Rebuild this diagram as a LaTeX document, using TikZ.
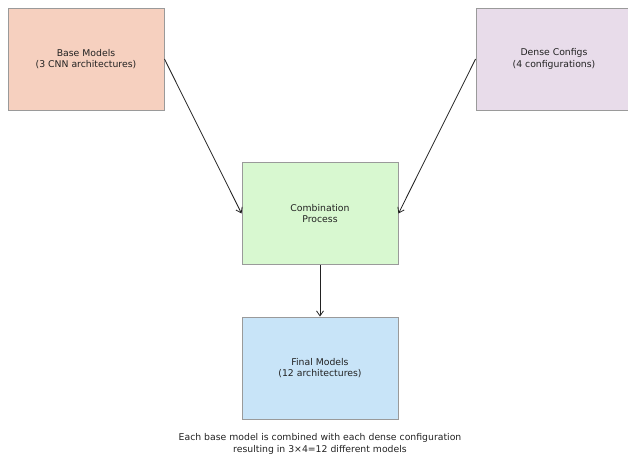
\documentclass[tikz,border=0pt]{standalone}
\usepackage{fontspec}
\setmainfont{DejaVu Sans}
\usetikzlibrary{arrows.meta}
\definecolor{peach}{HTML}{F6D0BF}
\definecolor{lav}{HTML}{E8DCEA}
\definecolor{mint}{HTML}{D8F8D0}
\definecolor{sky}{HTML}{C8E4F8}
\definecolor{edge}{HTML}{9A9A9A}
\definecolor{txt}{HTML}{222222}
\begin{document}
\begin{tikzpicture}[x=1pt,y=-1pt,
  box/.style={draw=edge,line width=0.9pt,rectangle,minimum width=156pt,minimum height=102pt,
    align=center,text=txt,font=\fontsize{9.3}{11.5}\selectfont,inner sep=0pt},
  conn/.style={draw=txt,line width=0.8pt,-{Straight Barb[length=5pt,width=7pt]}}]
\useasboundingbox (0,0) rectangle (628,459);
\node[box,fill=peach] (base) at (86,59) {Base Models\\(3 CNN architectures)};
\node[box,fill=lav] (dense) at (554,59) {Dense Configs\\(4 configurations)};
\node[box,fill=mint] (comb) at (320,213.5) {Combination\\Process};
\node[box,fill=sky] (final) at (320,368) {Final Models\\(12 architectures)};
\draw[conn] (base.east) -- (comb.west);
\draw[conn] (dense.west) -- (comb.east);
\draw[conn] (comb.south) -- (final.north);
\node[align=center,text=txt,font=\fontsize{9.3}{12}\selectfont] (cap) at (320,444)
  {Each base model is combined with each dense configuration\\resulting in 3×4=12 different models};
\end{tikzpicture}
\end{document}
